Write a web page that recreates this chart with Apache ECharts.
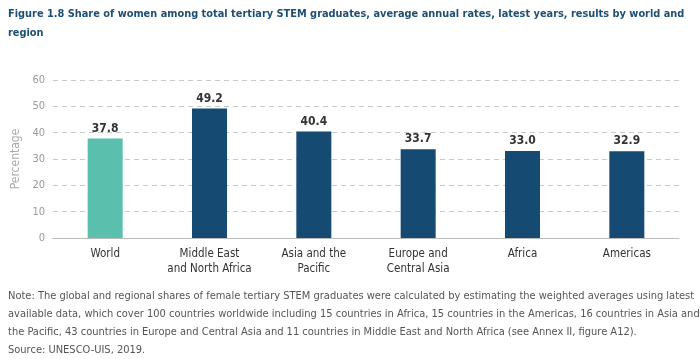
<!DOCTYPE html>
<html><head><meta charset="utf-8">
<script src="https://cdn.jsdelivr.net/npm/echarts@6/dist/echarts.min.js"></script>
<style>html,body{margin:0;padding:0;background:#fff}#c{width:700px;height:359px}</style>
</head><body><div id="c"></div>
<script>
const categories = ['World', 'Middle East\nand North Africa', 'Asia and the\nPacific', 'Europe and\nCentral Asia', 'Africa', 'Americas'];
const shares = [37.8, 49.2, 40.4, 33.7, 33.0, 32.9];
const yTicks = [0, 10, 20, 30, 40, 50, 60];
const titleText = 'Figure 1.8 Share of women among total tertiary STEM graduates, average annual rates, latest years, results by world and\nregion';
const noteText = 'Note: The global and regional shares of female tertiary STEM graduates were calculated by estimating the weighted averages using latest\navailable data, which cover 100 countries worldwide including 15 countries in Africa, 15 countries in the Americas, 16 countries in Asia and\nthe Pacific, 43 countries in Europe and Central Asia and 11 countries in Middle East and North Africa (see Annex II, figure A12).\nSource: UNESCO-UIS, 2019.';

const FONT = '"Liberation Sans Narrow", "DejaVu Sans Condensed", sans-serif';
const chart = echarts.init(document.getElementById('c'));
chart.setOption({
  animation: false,
  textStyle: { fontFamily: FONT },
  title: [
    { text: titleText, left: 8, top: 5, padding: 0, textStyle: { fontFamily: FONT, fontSize: 10.9, fontWeight: 'bold', color: '#1d4f75', lineHeight: 19 } },
    { text: noteText, left: 8, top: 287, padding: 0, textStyle: { fontFamily: FONT, fontSize: 11, fontWeight: 'normal', color: '#555', lineHeight: 18 } }
  ],
  grid: { left: 53, right: 21, top: 80, bottom: 121, outerBoundsMode: 'none', containLabel: false },
  xAxis: {
    type: 'category', data: categories,
    axisLine: { lineStyle: { color: '#bbb' } },
    axisTick: { show: false },
    axisLabel: { color: '#333', fontSize: 11.5, fontFamily: FONT, margin: 9, lineHeight: 15, interval: 0 }
  },
  yAxis: {
    type: 'value', min: yTicks[0], max: yTicks[yTicks.length - 1], interval: 10,
    name: 'Percentage', nameLocation: 'middle', nameGap: 19, nameRotate: 90,
    nameTextStyle: { color: '#aaa', fontSize: 12, fontFamily: FONT },
    axisLine: { show: false }, axisTick: { show: false },
    axisLabel: { color: '#999', fontSize: 11, fontFamily: FONT, margin: 8 },
    splitLine: { lineStyle: { color: '#c8c8c8', type: [5, 4] } }
  },
  series: [{
    type: 'bar', barWidth: 35,
    data: shares.map((v, i) => ({ value: v, itemStyle: { color: i === 0 ? '#5bbfad' : '#154b72' } })),
    label: { show: true, position: 'top', formatter: p => p.value.toFixed(1), color: '#333', fontSize: 12, fontWeight: 'bold', fontFamily: FONT, distance: 4 }
  }]
});
</script></body></html>
